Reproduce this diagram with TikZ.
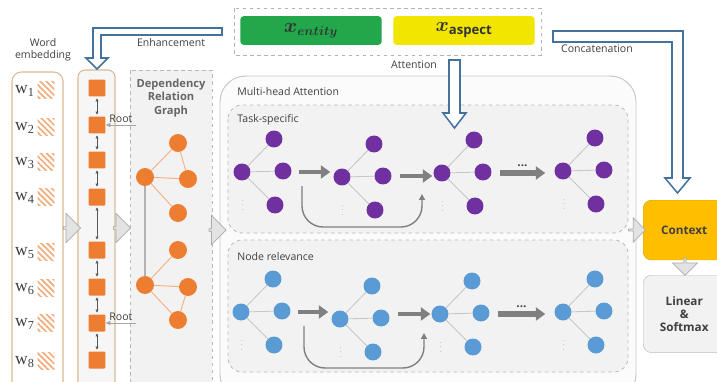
\documentclass[tikz,border=0pt]{standalone}
\usepackage{amsmath, bm}
\usepackage{fontspec}
\setmainfont{Open Sans}
\newfontfamily\wfont{Liberation Serif}
\usetikzlibrary{arrows.meta, positioning, shapes.arrows, patterns.meta, calc}

\definecolor{dorange}{HTML}{ED7D31}
\definecolor{lorange}{HTML}{F4B183}
\definecolor{dpurple}{HTML}{7030A0}
\definecolor{dblue}{HTML}{5B9BD5}
\definecolor{hblue}{HTML}{44729D}
\definecolor{tan}{HTML}{D9B995}
\definecolor{egreen}{HTML}{22A84A}
\definecolor{ayellow}{HTML}{F2E600}
\definecolor{ctxgold}{HTML}{FFBF00}
\definecolor{txtgray}{HTML}{404040}

\tikzset{
  lbl/.style={font=\fontsize{9}{10.5}\selectfont, text=txtgray, align=center, inner sep=1pt},
  boldlbl/.style={lbl, font=\fontsize{9.5}{11.5}\selectfont\bfseries},
  wlbl/.style={font=\fontsize{15}{16}\wfont, text=txtgray, inner sep=0pt, anchor=west},
  hatchsq/.style={minimum size=14.5pt, inner sep=0pt,
    pattern={Lines[angle=-45, distance=3.6pt, line width=1.4pt]}, pattern color=dorange!65},
  sq/.style={fill=dorange, minimum size=14.5pt, inner sep=0pt, rounded corners=1pt},
  depnode/.style={circle, fill=dorange, minimum size=15.3pt, inner sep=0pt},
  gnode/.style={circle, fill=#1, minimum size=14.5pt, inner sep=0pt},
  gedge/.style={draw=gray!45, line width=0.7pt},
  depedge/.style={draw=lorange, line width=0.8pt},
  dblarr/.style={{Triangle[length=2.5pt,width=2.5pt]}-{Triangle[length=2.5pt,width=2.5pt]}, draw=black!65, line width=0.4pt, shorten <=1.5pt, shorten >=1.5pt},
  rootarr/.style={-{Triangle[length=4pt,width=3.5pt]}, draw=gray!70, line width=0.6pt},
  flow/.style={-{Triangle[length=8pt,width=11pt]}, draw=black!50, line width=3.8pt},
  loopar/.style={-{Triangle[length=5pt,width=5pt]}, draw=black!50, line width=1.2pt, rounded corners=18pt},
  hollow/.style={draw=hblue, line width=1.3pt, fill=white},
  grayarr/.style={single arrow, fill=gray!22, draw=gray!65, line width=0.6pt, inner sep=0pt,
    minimum width=25pt, minimum height=14.5pt, single arrow head extend=3.5pt},
  panel/.style={draw=gray!55, dashed, line width=0.7pt, fill=gray!10},
}

\newcommand{\minigraph}[4]{%
  \node[gnode=#4] (#1h) at (#2,#3) {};
  \node[gnode=#4] (#1t) at ({#2+32},{#3-33}) {};
  \node[gnode=#4] (#1r) at ({#2+41},{#3-1}) {};
  \node[gnode=#4] (#1b) at ({#2+33},{#3+33}) {};
  \node[text=gray, inner sep=0pt, font=\tiny] (#1d) at ({#2+1},{#3+30}) {$\vdots$};
  \draw[gedge] (#1h) -- (#1t) (#1h) -- (#1r) (#1h) -- (#1b);
}

\begin{document}
\begin{tikzpicture}[x=0.03cm, y=-0.03cm]
\clip (0,0) rectangle (717,381);
\fill[white] (0,0) rectangle (717,381);

% word embedding
\node[lbl] (wordlbl) at (43,50) {Word\\embedding};
\draw[tan, line width=0.9pt, fill=white, rounded corners=8pt] (12,72) rectangle (63,395);
\foreach \i/\y in {1/90, 2/127, 3/162, 4/197, 5/252, 6/288, 7/323, 8/361} {
  \node[hatchsq] (h\i) at (46,\y) {};
  \node[wlbl] (w\i) at (15,{\y+1}) {w\textsubscript{\i}};
}

% dependency graph panel
\draw[panel] (130,70) rectangle (212,395);
\node[boldlbl, text=black!60] (deplbl) at (171,98) {Dependency\\Relation\\Graph};

% enhanced column
\draw[tan, line width=0.9pt, fill=gray!7, rounded corners=6pt] (78,70) rectangle (115,395);
\foreach \i/\y in {1/88, 2/125, 3/160, 4/197, 5/250, 6/287, 7/323, 8/360}
  \node[sq] (s\i) at (97,\y) {};
\foreach \i [evaluate=\i as \j using int(\i+1)] in {1,...,7}
  \draw[dblarr] (s\i) -- (s\j);
\coordinate (r1) at (136,125);
\coordinate (r2) at (136,323);
\draw[rootarr] (r1) -- node[lbl, above=1pt] {Root} (s2);
\draw[rootarr] (r2) -- node[lbl, above=1pt] {Root} (s7);

% dependency graph
\node[depnode] (d1) at (178,143) {};
\node[depnode] (d2) at (145,177) {};
\node[depnode] (d3) at (188,179) {};
\node[depnode] (d4) at (178,213) {};
\node[depnode] (d5) at (178,250) {};
\node[depnode] (d6) at (145,285) {};
\node[depnode] (d7) at (188,287) {};
\node[depnode] (d8) at (178,320) {};
\draw[draw=gray!60, line width=1pt] (d2) -- (d6);
\draw[depedge] (d2) -- (d1) (d2) -- (d3) (d1) -- (d3) (d2) -- (d4);
\draw[depedge] (d6) -- (d5) (d6) -- (d7) (d6) -- (d8) (d7) -- (d8);

% top inputs
\draw[gray!60, dashed, line width=0.7pt] (234,8) rectangle (541,55);
\node[fill=egreen, rounded corners=3pt, minimum width=120.7pt, minimum height=24.6pt, inner sep=0pt,
      font=\fontsize{16}{18}\selectfont, text=black!80] (ent) at (311,30.5) {$\bm{x}_{\bm{entity}}$};
\node[fill=ayellow, rounded corners=3pt, minimum width=120.7pt, minimum height=24.6pt, inner sep=0pt,
      font=\fontsize{16}{18}\selectfont, text=black!80] (asp) at (464,30.5) {$\bm{x}_{\mathbf{aspect}}$};

% multi-head attention
\draw[gray!45, line width=0.8pt, fill=gray!3, rounded corners=22pt] (220,76) rectangle (636,400);
\node[lbl, anchor=west] (mhlbl) at (236,92) {Multi-head Attention};
\draw[panel, rounded corners=12pt] (228,105) rectangle (628,233);
\draw[panel, rounded corners=12pt] (228,240) rectangle (628,372);
\node[lbl, anchor=west] (tslbl) at (236,120) {Task-specific};
\node[lbl, anchor=west] (nrlbl) at (236,257) {Node relevance};

\minigraph{p1}{242}{172}{dpurple}
\minigraph{p2}{342}{177}{dpurple}
\minigraph{p3}{442}{173}{dpurple}
\minigraph{p4}{563}{171}{dpurple}
\minigraph{b1}{241}{312}{dblue}
\minigraph{b2}{340}{319}{dblue}
\minigraph{b3}{440}{314}{dblue}
\minigraph{b4}{563}{312}{dblue}

\draw[flow] ($(p1r.east)+(7,1)$) -- ($(p1r.east -| p2h.west)+(-3,1)$);
\draw[flow] ($(p2r.east)+(8,0)$) -- ($(p2r.east -| p3h.west)+(-1,0)$);
\draw[flow, line width=4.6pt] ($(p3r.east)+(8,1)$) -- ($(p3r.east -| p4h.west)+(-9,1)$) node[midway, above=0pt, font=\bfseries, text=txtgray] {...};
\draw[flow] ($(b1r.east)+(7,1)$) -- ($(b1r.east -| b2h.west)+(-3,1)$);
\draw[flow] ($(b2r.east)+(8,-4)$) -- ($(b2r.east -| b3h.west)+(-1,-4)$);
\draw[flow, line width=4.6pt] ($(b3r.east)+(8,1)$) -- ($(b3r.east -| b4h.west)+(-9,1)$) node[midway, above=0pt, font=\bfseries, text=txtgray] {...};

\coordinate (pl0) at (302,186);
\coordinate (pl1) at (422,194);
\draw[loopar] (pl0) -- (302,227) -- (422,227) -- (pl1);
\coordinate (bl0) at (304,326);
\coordinate (bl1) at (424,333);
\draw[loopar] (bl0) -- (304,368) -- (424,368) -- (bl1);

% context and output
\node[fill=ctxgold, draw=ctxgold!85!black, rounded corners=7pt, minimum width=70pt, minimum height=51pt,
      anchor=north west, font=\fontsize{10}{12}\selectfont\bfseries, text=black!75] (ctx) at (643,200) {Context};
\node[fill=gray!10, draw=gray!50, rounded corners=7pt, minimum width=70pt, minimum height=66pt,
      anchor=north west, align=center, font=\fontsize{10}{12}\selectfont\bfseries, text=black!75] (lin) at (643,275) {Linear\\[-1pt]\&\\[-1pt]Softmax};

% gray block arrows
\node[grayarr] (ga1) at (71.5,228) {};
\node[grayarr] (ga2) at (121.5,228) {};
\node[grayarr] (ga3) at (217,230) {};
\node[grayarr, minimum width=21pt] (ga4) at (636.5,230) {};
\node[grayarr, shape border rotate=270, minimum height=15pt, minimum width=21pt] (ga5) at (685,266) {};

% hollow arrows
\draw[hollow] (222,28) -- (93,28) -- (93,58) -- (86,58) -- (97,69) -- (108,58) -- (101,58) -- (101,35) -- (222,35) -- cycle;
\node[lbl] (enhlbl) at (171,43) {Enhancement};
\draw[hollow] (553,31) -- (683,31) -- (683,178) -- (690,178) -- (677.5,193) -- (665,178) -- (672,178) -- (672,42) -- (553,42) -- cycle;
\node[lbl] (catlbl) at (597,49) {Concatenation};
\draw[hollow] (449,60) -- (460,60) -- (460,113) -- (466,113) -- (454.5,128) -- (443,113) -- (449,113) -- cycle;
\node[lbl] (attlbl) at (414,65) {Attention};
\end{tikzpicture}
\end{document}
